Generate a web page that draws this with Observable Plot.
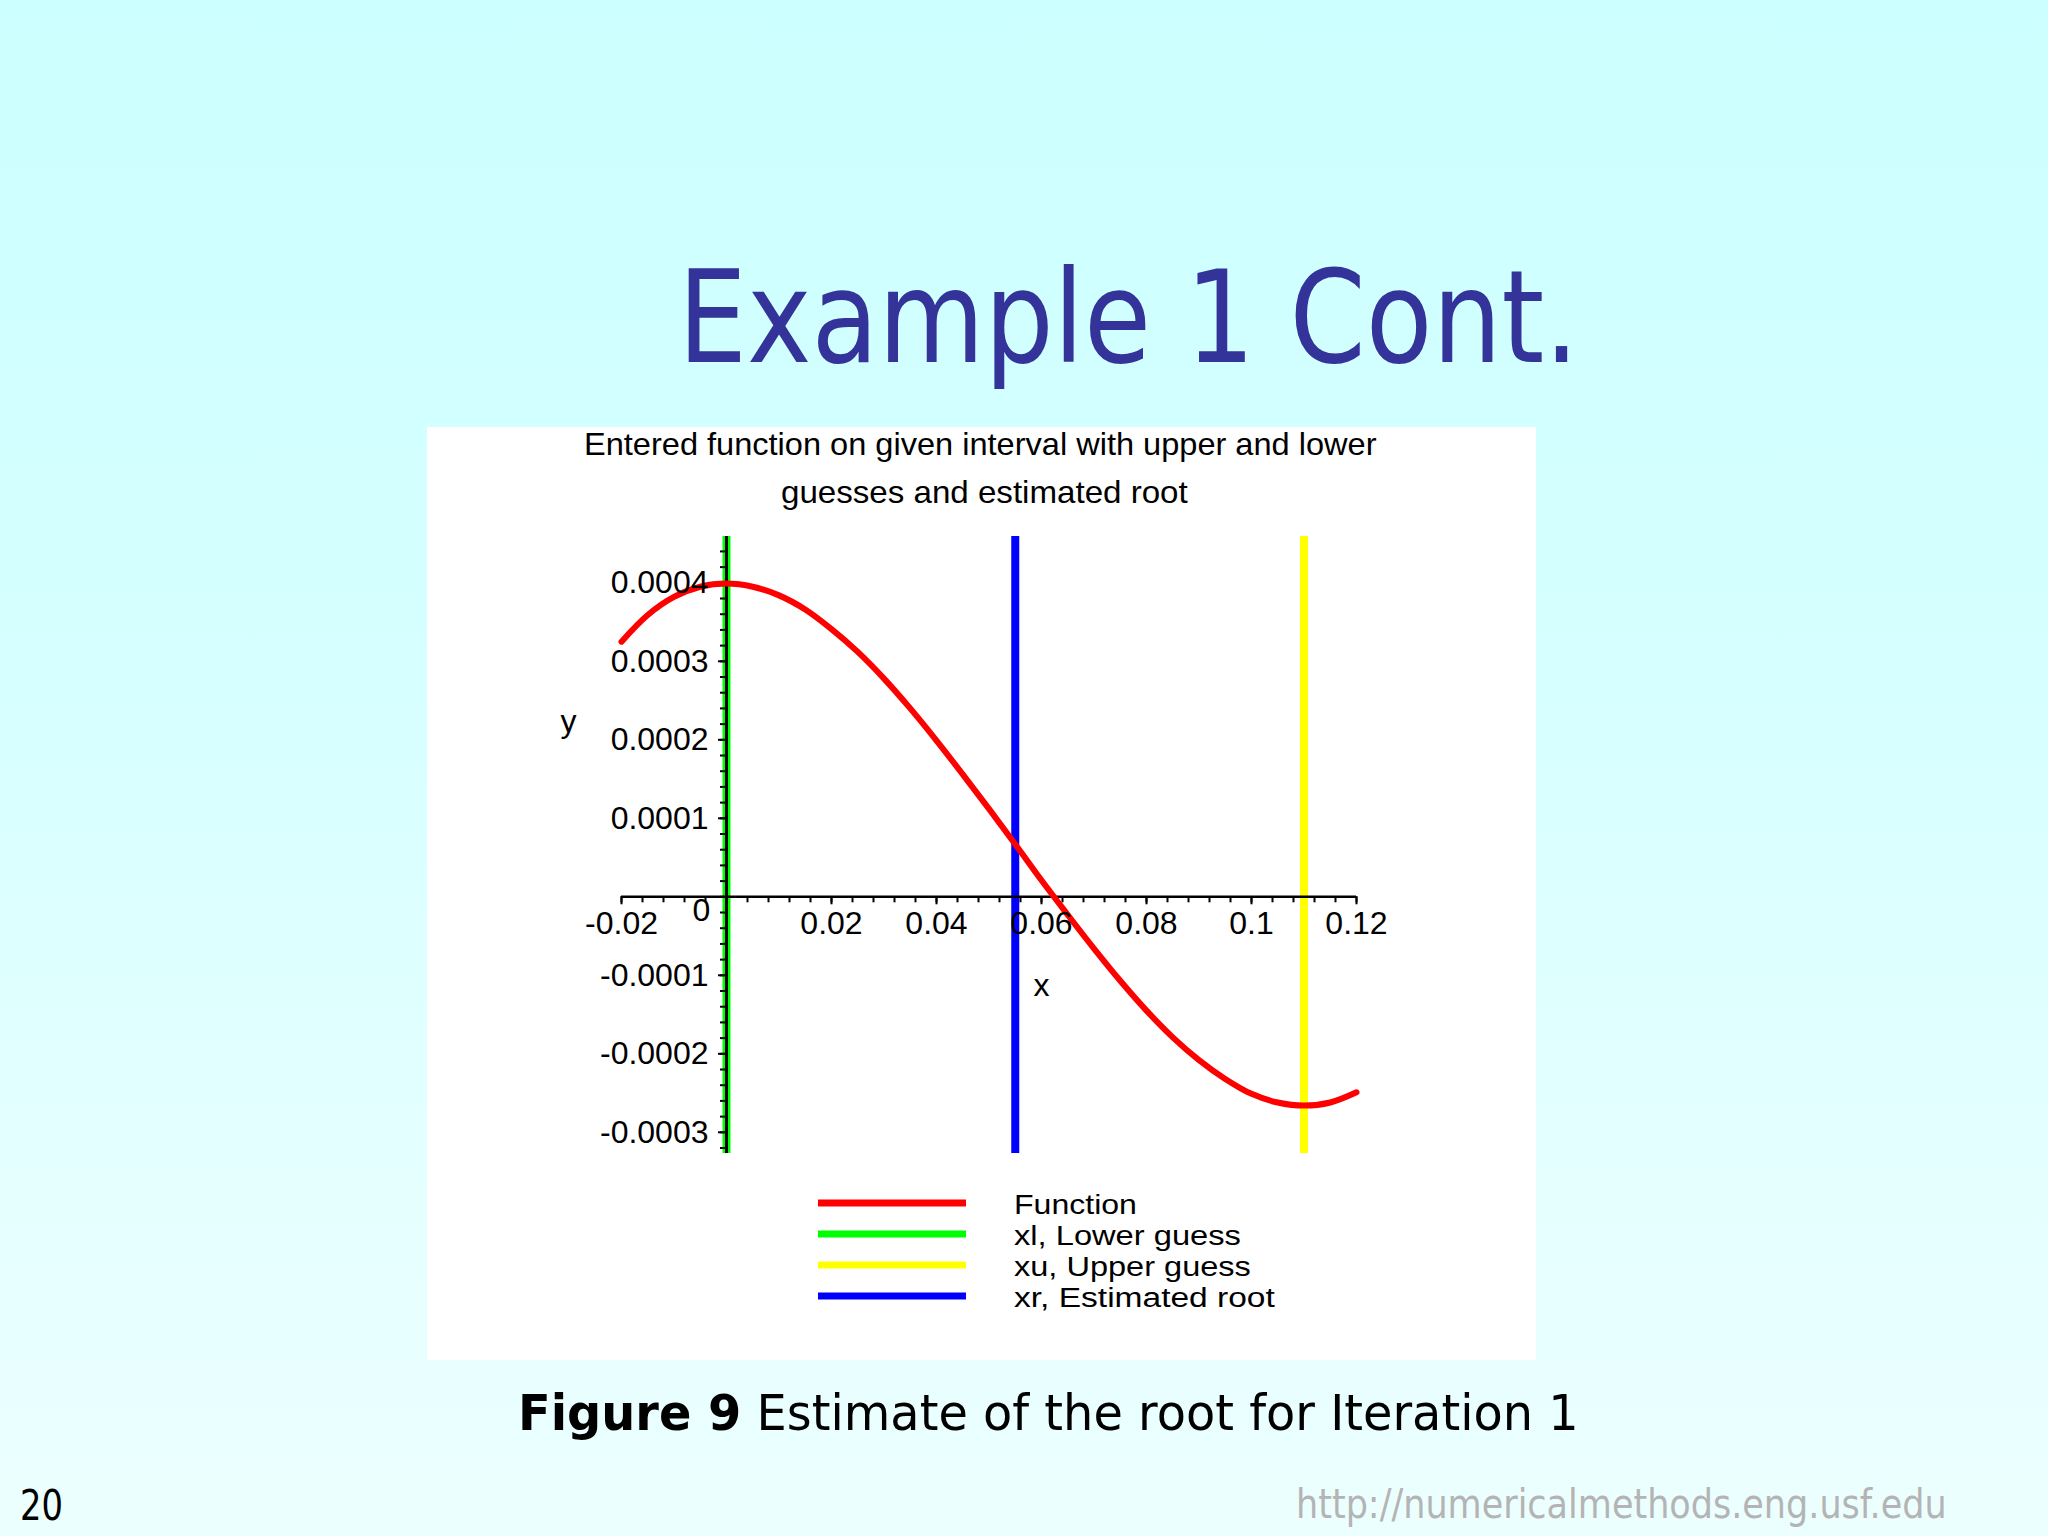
<!DOCTYPE html>
<html><head><meta charset="utf-8">
<script src="https://cdn.jsdelivr.net/npm/d3@7"></script>
<script src="https://cdn.jsdelivr.net/npm/@observablehq/plot@0.6"></script>
<style>
html,body{margin:0;padding:0;}
body{width:2048px;height:1536px;overflow:hidden;position:relative;
  background:linear-gradient(to bottom,#ccffff 0%,#d6ffff 45%,#e4ffff 75%,#ecffff 100%);}
#chart{position:absolute;left:427px;top:427px;}
#overlay{position:absolute;left:0;top:0;pointer-events:none;}
</style></head><body>
<div id="chart"></div>
<svg id="overlay" width="2048" height="1536"></svg>
<script>
// ---- data ----
const fnX = [-0.02,-0.015,-0.01,-0.005,0,0.005,0.01,0.015,0.02,0.025,0.03,0.035,0.04,0.045,0.05,0.055,0.06,0.065,0.07,0.075,0.08,0.085,0.09,0.095,0.1,0.105,0.11,0.115,0.12];
const fnY = [0.000325,0.000359,0.000382,0.000395,0.000399,0.000395,0.000384,0.000366,0.000341,0.000312,0.000278,0.000240,0.000199,0.000156,0.000112,0.000067,0.000021,-0.000023,-0.000066,-0.000107,-0.000145,-0.000179,-0.000208,-0.000232,-0.000251,-0.000262,-0.000266,-0.000262,-0.000249];
const guessNames = ["xl, Lower guess","xu, Upper guess","xr, Estimated root"];
const guessX = [0, 0.11, 0.055];
const guessColors = ["#00ff00","#ffff00","#0000ff"];
const legendNames = ["Function","xl, Lower guess","xu, Upper guess","xr, Estimated root"];
const legendColors = ["#ff0000","#00ff00","#ffff00","#0000ff"];
const xTickLabels = ["-0.02","0.02","0.04","0.06","0.08","0.1","0.12"];
const yTickLabels = ["0.0004","0.0003","0.0002","0.0001","-0.0001","-0.0002","-0.0003"];
const xDomain = [-0.02, 0.12];
const yDomain = [-0.000327, 0.000459];
const chartTitle = ["Entered function on given interval with upper and lower","guesses and estimated root"];

const fn = fnX.map((x,i)=>({x, y: fnY[i]}));
const guesses = guessX.map((x,i)=>({x, name: guessNames[i], color: guessColors[i]}));
const xMinor = d3.range(0, 36).map(i => +(-0.02 + i*0.004).toFixed(4)).filter(v => v <= 0.12 + 1e-9);
const yMinor = d3.range(0, 40).map(i => +(-0.00032 + i*0.00002).toFixed(6)).filter(v => v <= 0.00044 + 1e-12);

const maple = "'Liberation Sans', Arial, sans-serif";

const chart = Plot.plot({
  width: 1109, height: 933,
  marginLeft: 194, marginRight: 180, marginTop: 109, marginBottom: 207,
  x: {domain: xDomain, axis: null},
  y: {domain: yDomain, axis: null},
  color: {type: "identity"},
  style: {background: "white", overflow: "visible", fontFamily: maple},
  marks: [
    Plot.ruleX(guesses, {x: "x", stroke: "color", strokeWidth: 8}),
    Plot.ruleY([0], {x1: xDomain[0], x2: xDomain[1], stroke: "black", strokeWidth: 2.5}),
    Plot.ruleX([0], {stroke: "black", strokeWidth: 3}),
    Plot.ruleX(xMinor, {x: d => d, y1: 0, y2: 0, insetBottom: -6, stroke: "black", strokeWidth: 2}),
    Plot.ruleX(xTickLabels, {x: d => +d, y1: 0, y2: 0, insetBottom: -8, stroke: "black", strokeWidth: 2}),
    Plot.ruleY(yMinor, {y: d => d, x1: 0, x2: 0, insetLeft: -6, stroke: "black", strokeWidth: 2}),
    Plot.ruleY(yTickLabels, {y: d => +d, x1: 0, x2: 0, insetLeft: -8, stroke: "black", strokeWidth: 2}),
    Plot.line(fn, {x: "x", y: "y", stroke: "#ff0000", strokeWidth: 6, curve: "catmull-rom"}),
    Plot.text(xTickLabels, {x: d => +d, y: 0, dy: 27, text: d => d, fontSize: 32, fill: "black"}),
    Plot.text(yTickLabels, {x: 0, y: d => +d, dx: -18, textAnchor: "end", text: d => d, fontSize: 32, fill: "black"}),
    Plot.text(["0"], {x: 0, y: 0, dx: -25, dy: 14, text: d => d, fontSize: 32, fill: "black"}),
    Plot.text(["x"], {x: 0.06, y: 0, dy: 89, text: d => d, fontSize: 32, fill: "black"}),
    Plot.text(["y"], {frameAnchor: "top-left", dx: -61, dy: 173, text: d => d, fontSize: 32, fill: "black"})
  ]
});
document.getElementById("chart").appendChild(chart);

// ---- page texts and legend ----
const ov = d3.select("#overlay");
function fitText(sel, x, baseline, width, anchor) {
  const node = sel.node();
  const w = node.getComputedTextLength();
  const k = width / w;
  const x0 = anchor === "middle" ? x - width/2 : x;
  sel.attr("x", 0).attr("y", 0).attr("transform", `translate(${x0},${baseline}) scale(${k},1)`);
  return sel;
}
function addText(str, o) {
  const t = ov.append("text").text(str)
    .attr("font-family", o.family).attr("font-size", o.size)
    .attr("font-weight", o.weight || "normal").attr("fill", o.fill || "black");
  return fitText(t, o.x, o.y, o.w, o.anchor);
}
const verdana = "'DejaVu Sans', Verdana, sans-serif";
addText("Example 1 Cont.", {family: verdana, size: 129, fill: "#333399", x: 678, y: 362, w: 901});
addText(chartTitle[0], {family: maple, size: 32, x: 980.5, y: 455, w: 793, anchor: "middle"});
addText(chartTitle[1], {family: maple, size: 32, x: 984.5, y: 503, w: 407, anchor: "middle"});

const legY = [1203, 1234, 1265, 1296];
const legW = [123, 227, 237, 261];
legendNames.forEach((n, i) => {
  ov.append("line").attr("x1", 818).attr("x2", 966).attr("y1", legY[i]).attr("y2", legY[i])
    .attr("stroke", legendColors[i]).attr("stroke-width", 7);
  addText(n, {family: maple, size: 28, x: 1014, y: legY[i] + 11, w: legW[i]});
});

// caption
const cap = ov.append("text").attr("font-family", verdana).attr("font-size", 50).attr("fill", "black");
cap.append("tspan").attr("font-weight", "bold").text("Figure 9");
cap.append("tspan").text(" Estimate of the root for Iteration 1");
fitText(cap, 518, 1430, 1061);

addText("20", {family: verdana, size: 42, x: 20, y: 1520, w: 43});
addText("http://numericalmethods.eng.usf.edu", {family: verdana, size: 41, fill: "#b4b4b4", x: 1296, y: 1518, w: 651});
</script></body></html>
